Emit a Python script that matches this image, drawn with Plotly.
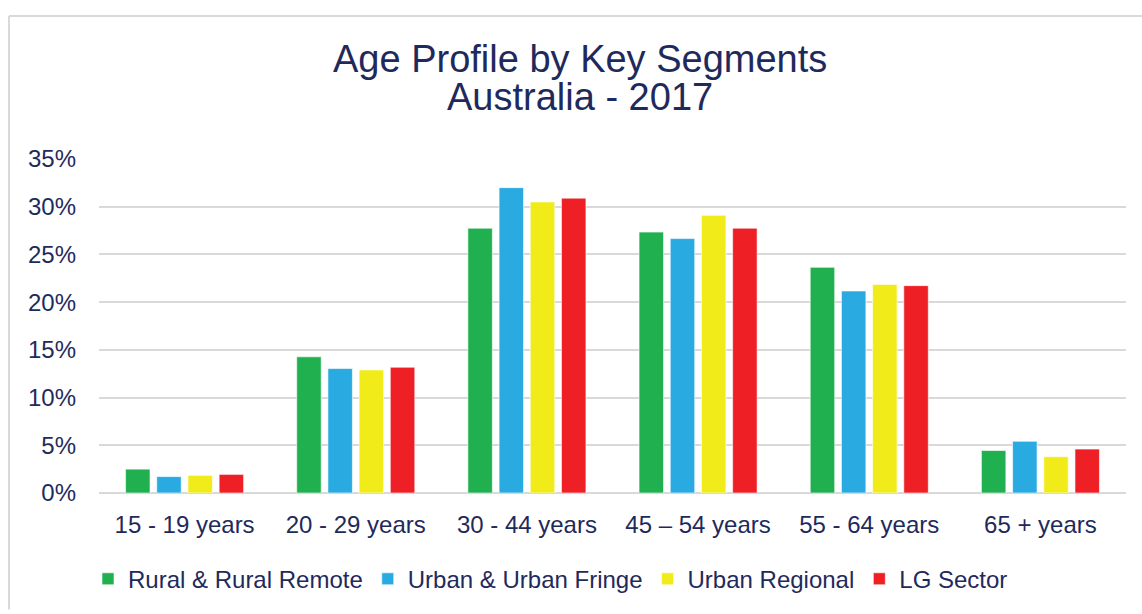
import plotly.graph_objects as go

categories = ["15 - 19 years", "20 - 29 years", "30 - 44 years", "45 – 54 years", "55 - 64 years", "65 + years"]
rural = [2.5, 14.27, 27.75, 27.34, 23.65, 4.45]
urban = [1.72, 13.04, 32.0, 26.66, 21.17, 5.42]
regional = [1.85, 12.9, 30.5, 29.1, 21.86, 3.8]
lg_sector = [1.95, 13.18, 30.9, 27.75, 21.73, 4.6]

series_names = ["Rural & Rural Remote", "Urban & Urban Fringe", "Urban Regional", "LG Sector"]
series_colors = ["#21b04f", "#29abe2", "#f2eb1a", "#ee1f25"]
title_lines = ["Age Profile by Key Segments", "Australia - 2017"]

TEXT = "#1f2a5c"
FONT = "Liberation Sans, Arial, sans-serif"
W, H = 1142, 614
L, R, T, B = 99, 16, 159, 114

fig = go.Figure()
for name, vals, col in zip(series_names, [rural, urban, regional, lg_sector], series_colors):
    fig.add_trace(go.Bar(x=categories, y=vals, name=name, marker_color=col,
                         marker_line=dict(color="rgba(255,255,255,0.6)", width=1)))

pw, ph = W - L - R, H - T - B
def px2paper(x, y):
    return (x - L) / pw, (H - B - y) / ph

# frame
x0, y0 = px2paper(9, 13)
x1, y1 = px2paper(W + 5, H + 5)
fig.add_shape(type="line", xref="paper", yref="paper", x0=x0, y0=y0, x1=x1, y1=y0,
              line=dict(color="#d9d9d9", width=2))
fig.add_shape(type="line", xref="paper", yref="paper", x0=x0, y0=y0, x1=x0, y1=y1,
              line=dict(color="#d9d9d9", width=2))

tx, ty1 = px2paper(580, 57)
_, ty2 = px2paper(580, 96)
for txt, ty in zip(title_lines, [ty1, ty2]):
    fig.add_annotation(text=txt, xref="paper", yref="paper", x=tx, y=ty,
                       xanchor="center", yanchor="middle", showarrow=False,
                       font=dict(family=FONT, size=38, color=TEXT))

lx, ly = px2paper(88, 588)
fig.update_layout(
    width=W, height=H,
    margin=dict(l=L, r=R, t=T, b=B),
    paper_bgcolor="white", plot_bgcolor="white",
    barmode="group", bargap=0.271, bargroupgap=0.215,
    font=dict(family=FONT, size=24, color=TEXT),
    showlegend=True,
    legend=dict(orientation="h", x=lx, y=ly, xanchor="left", yanchor="middle",
                font=dict(family=FONT, size=24, color=TEXT), traceorder="normal"),
    xaxis=dict(showgrid=False, showline=False, ticks="", tickfont=dict(size=24, color=TEXT),
               ticklabelstandoff=15),
    yaxis=dict(range=[0, 35], dtick=5, ticksuffix="%", showgrid=True, gridcolor="#d9d9d9",
               gridwidth=2, zeroline=True, zerolinecolor="#d9d9d9", zerolinewidth=2,
               showline=False, tickfont=dict(size=24, color=TEXT), ticklabelstandoff=22),
)

fig.write_html("out.html", config={"displayModeBar": False},
               post_script="document.body.style.margin='0px';document.body.style.overflow='hidden';")
